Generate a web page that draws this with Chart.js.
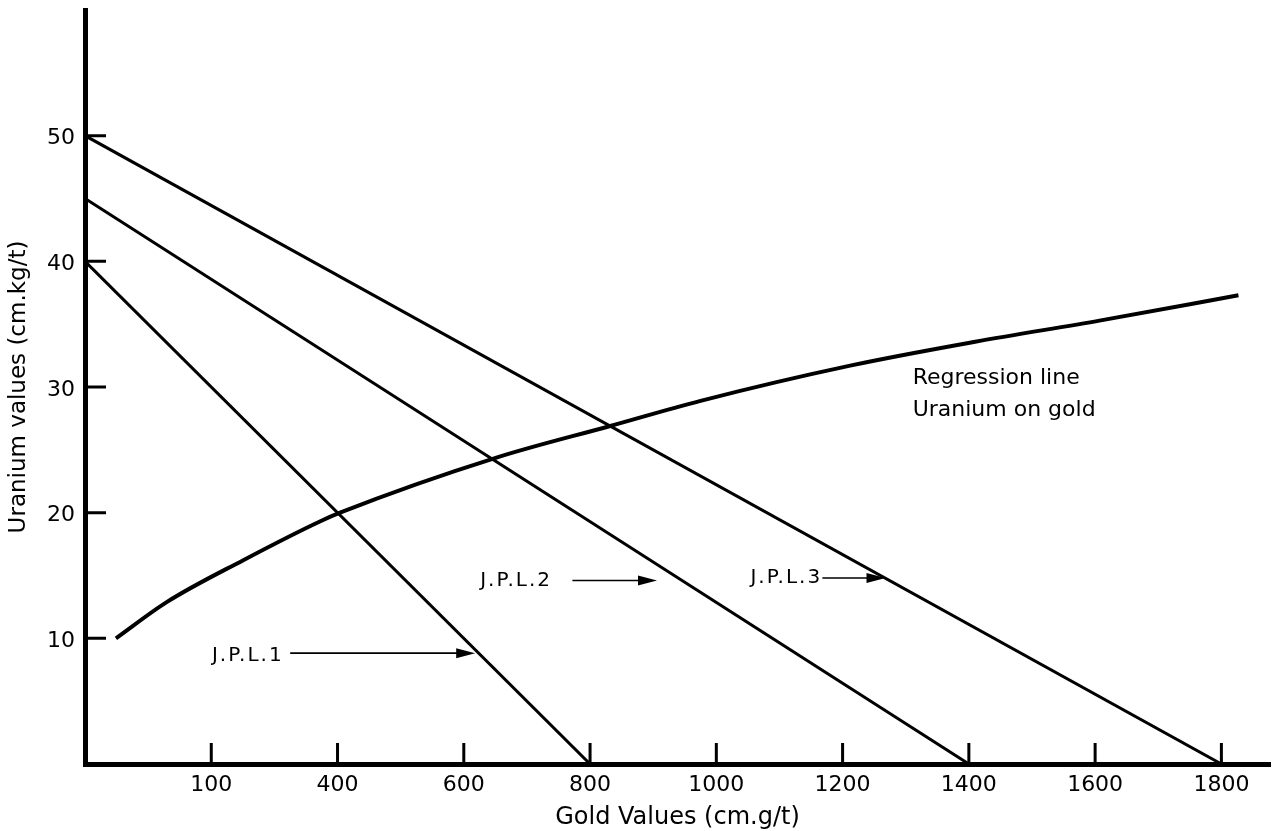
<!DOCTYPE html>
<html>
<head>
<meta charset="utf-8">
<title>Uranium values vs gold values</title>
<script src="https://cdn.jsdelivr.net/npm/chart.js@4.4.1/dist/chart.umd.min.js"></script>
<style>
  html, body { margin: 0; padding: 0; background: #fff; }
  #wrap { width: 1279px; height: 831px; position: relative; }
</style>
</head>
<body>
<div id="wrap"><canvas id="chart"></canvas></div>
<script>
// Values (gold cm.g/t on x, uranium cm.kg/t on y)
const jpl1X = [0, 800];
const jpl1Y = [40, 0];
const jpl2X = [0, 1400];
const jpl2Y = [45, 0];
const jpl3X = [0, 1800];
const jpl3Y = [50, 0];
const regX = [49, 130, 250, 372, 404, 653, 832, 975, 1212, 1410, 1609, 1827];
const regY = [10.0, 12.9, 16.2, 19.3, 20.0, 24.4, 26.9, 28.9, 31.7, 33.6, 35.3, 37.3];

// Tick marks and their labels (the original prints "100" under the 200 mark)
const xTickValues = [200, 400, 600, 800, 1000, 1200, 1400, 1600, 1800];
const xTickLabels = ['100', '400', '600', '800', '1000', '1200', '1400', '1600', '1800'];
const yTickValues = [10, 20, 30, 40, 50];
const yTickLabels = ['10', '20', '30', '40', '50'];

const FONT = 'DejaVu Sans';
const INK = '#000';

// Labels with arrows, placed in data units
const arrowNotes = [
  { text: 'J.P.L.1', x: 201, y: 8.6, arrowY: 8.82, from: 325, to: 618 },
  { text: 'J.P.L.2', x: 626, y: 14.6, arrowY: 14.6, from: 772, to: 906 },
  { text: 'J.P.L.3', x: 1054, y: 14.8, arrowY: 14.8, from: 1168, to: 1268 }
];
const textNotes = [
  { text: 'Regression line', x: 1311, y: 30.7 },
  { text: 'Uranium on gold', x: 1311, y: 28.15 }
];

function toPoints(xs, ys) {
  return xs.map((x, i) => ({ x: x, y: ys[i] }));
}

// tick marks drawn inside the plot, as in the original
const inwardTicks = {
  id: 'inwardTicks',
  afterDraw(chart) {
    const { ctx, chartArea } = chart;
    const xs = chart.scales.x, ys = chart.scales.y;
    ctx.save();
    ctx.strokeStyle = INK;
    ctx.lineWidth = 3;
    ctx.beginPath();
    xTickValues.forEach(v => {
      const px = xs.getPixelForValue(v);
      ctx.moveTo(px, chartArea.bottom);
      ctx.lineTo(px, chartArea.bottom - 21);
    });
    yTickValues.forEach(v => {
      const py = ys.getPixelForValue(v);
      ctx.moveTo(chartArea.left, py);
      ctx.lineTo(chartArea.left + 21, py);
    });
    ctx.stroke();
    ctx.restore();
  }
};

const notesPlugin = {
  id: 'notes',
  afterDatasetsDraw(chart) {
    const ctx = chart.ctx;
    const xs = chart.scales.x, ys = chart.scales.y;
    ctx.save();
    ctx.fillStyle = INK;
    ctx.strokeStyle = INK;
    ctx.textAlign = 'left';
    ctx.textBaseline = 'middle';

    ctx.font = '20px "' + FONT + '"';
    ctx.letterSpacing = '2px';
    arrowNotes.forEach(n => {
      ctx.fillText(n.text, xs.getPixelForValue(n.x), ys.getPixelForValue(n.y));
      const ay = ys.getPixelForValue(n.arrowY);
      const x1 = xs.getPixelForValue(n.from);
      const x2 = xs.getPixelForValue(n.to);
      ctx.lineWidth = 1.6;
      ctx.beginPath();
      ctx.moveTo(x1, ay);
      ctx.lineTo(x2 - 14, ay);
      ctx.stroke();
      ctx.beginPath();
      ctx.moveTo(x2, ay);
      ctx.lineTo(x2 - 19, ay - 5);
      ctx.lineTo(x2 - 19, ay + 5);
      ctx.closePath();
      ctx.fill();
    });

    ctx.letterSpacing = '0px';
    ctx.font = '22px "' + FONT + '"';
    textNotes.forEach(n => {
      ctx.fillText(n.text, xs.getPixelForValue(n.x), ys.getPixelForValue(n.y));
    });
    ctx.restore();
  }
};

function lineSet(label, xs, ys, width) {
  return {
    label: label,
    data: toPoints(xs, ys),
    borderColor: INK,
    borderWidth: width,
    pointRadius: 0,
    fill: false,
    tension: 0
  };
}

const regression = lineSet('Regression line', regX, regY, 4);
regression.cubicInterpolationMode = 'monotone';

new Chart(document.getElementById('chart'), {
  type: 'line',
  data: {
    datasets: [
      lineSet('J.P.L.1', jpl1X, jpl1Y, 3),
      lineSet('J.P.L.2', jpl2X, jpl2Y, 3),
      lineSet('J.P.L.3', jpl3X, jpl3Y, 3),
      regression
    ]
  },
  options: {
    responsive: true,
    maintainAspectRatio: false,
    animation: false,
    layout: { padding: { top: 10, right: 9, left: 0, bottom: 0 } },
    plugins: {
      legend: { display: false },
      tooltip: { enabled: false }
    },
    scales: {
      x: {
        type: 'linear',
        min: 0,
        max: 1877,
        afterBuildTicks: s => { s.ticks = xTickValues.map(v => ({ value: v })); },
        afterFit: s => { s.height = 67; s.paddingLeft = 0; s.paddingRight = 0; },
        grid: { display: false, drawTicks: false },
        border: { display: true, color: INK, width: 5 },
        ticks: {
          color: INK,
          autoSkip: false,
          maxRotation: 0,
          padding: 8,
          font: { family: FONT, size: 22 },
          callback: v => xTickLabels[xTickValues.indexOf(v)]
        },
        title: {
          display: true,
          text: 'Gold Values (cm.g/t)',
          color: INK,
          font: { family: FONT, size: 24, lineHeight: 1 },
          padding: { top: 0, bottom: 1 }
        }
      },
      y: {
        type: 'linear',
        min: 0,
        max: 60,
        afterBuildTicks: s => { s.ticks = yTickValues.map(v => ({ value: v })); },
        afterFit: s => { s.width = 85; s.paddingTop = 0; s.paddingBottom = 0; },
        grid: { display: false, drawTicks: false },
        border: { display: true, color: INK, width: 5 },
        ticks: {
          color: INK,
          autoSkip: false,
          padding: 10,
          labelOffset: 3,
          font: { family: FONT, size: 22 },
          callback: v => yTickLabels[yTickValues.indexOf(v)]
        },
        title: {
          display: true,
          text: 'Uranium values (cm.kg/t)',
          color: INK,
          font: { family: FONT, size: 23, lineHeight: 1 },
          padding: { top: 8, bottom: 0 }
        }
      }
    }
  },
  plugins: [inwardTicks, notesPlugin]
});
</script>
</body>
</html>
